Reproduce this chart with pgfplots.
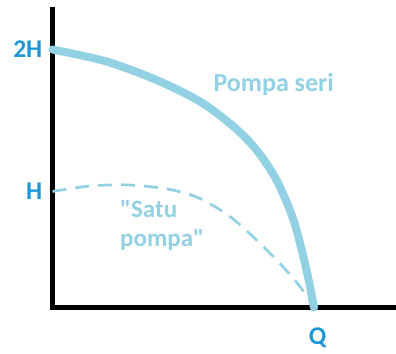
\documentclass[border=0pt]{standalone}
\usepackage{fontspec}
\setmainfont{Carlito}[Ligatures=TeXOff]
\usepackage{pgfplots}
\pgfplotsset{compat=1.18}

\definecolor{curveblue}{RGB}{146,208,228}
\definecolor{labelblue}{RGB}{28,150,215}

\begin{document}
\begin{tikzpicture}
\useasboundingbox (0,0) rectangle (396bp,354bp);
\begin{axis}[
    at={(52.5bp,46.5bp)}, anchor=south west,
    scale only axis,
    width=344bp, height=298bp,
    xmin=0, xmax=344,
    ymin=0, ymax=298,
    axis lines=left,
    axis line style={-, line width=4.5bp, line cap=rect, black},
    clip=false,
    xtick={261.5}, xticklabels={Q},
    ytick={116,258}, yticklabels={H,2H},
    major tick length=0pt,
    tick label style={font=\bfseries\fontsize{25.5bp}{30bp}\selectfont, text=labelblue, inner sep=0pt},
    xticklabel style={anchor=north, yshift=-20bp, xshift=3.5bp},
    yticklabel style={anchor=east, xshift=-10bp},
]
% "Satu pompa" (single pump)
\addplot[curveblue, line width=2.7bp, dash pattern=on 14bp off 9bp, smooth] coordinates {
    (0,116) (37.5,121.5) (77.5,122.5) (117.5,118) (147.5,109) (177.5,91)
    (204,67.5) (227.5,44) (247.5,21) (261.5,0)
};
% Pompa seri (pumps in series)
\addplot[curveblue, line width=8bp, line cap=round, smooth] coordinates {
    (0,258) (54,246) (104,227.5) (147.5,206) (181,181) (204,157.5)
    (224,127.5) (241,87.5) (254,37.5) (261.5,0)
};
\node[anchor=north west, inner sep=0pt, text=curveblue,
      font=\bfseries\fontsize{26bp}{30bp}\selectfont] at (axis cs:160.8,234.2) {Pompa seri};
\node[anchor=north west, inner sep=0pt, text=curveblue, align=left,
      font=\bfseries\fontsize{25bp}{29bp}\selectfont] at (axis cs:67.5,107.5) {"Satu\\pompa"};
\end{axis}
\end{tikzpicture}
\end{document}
